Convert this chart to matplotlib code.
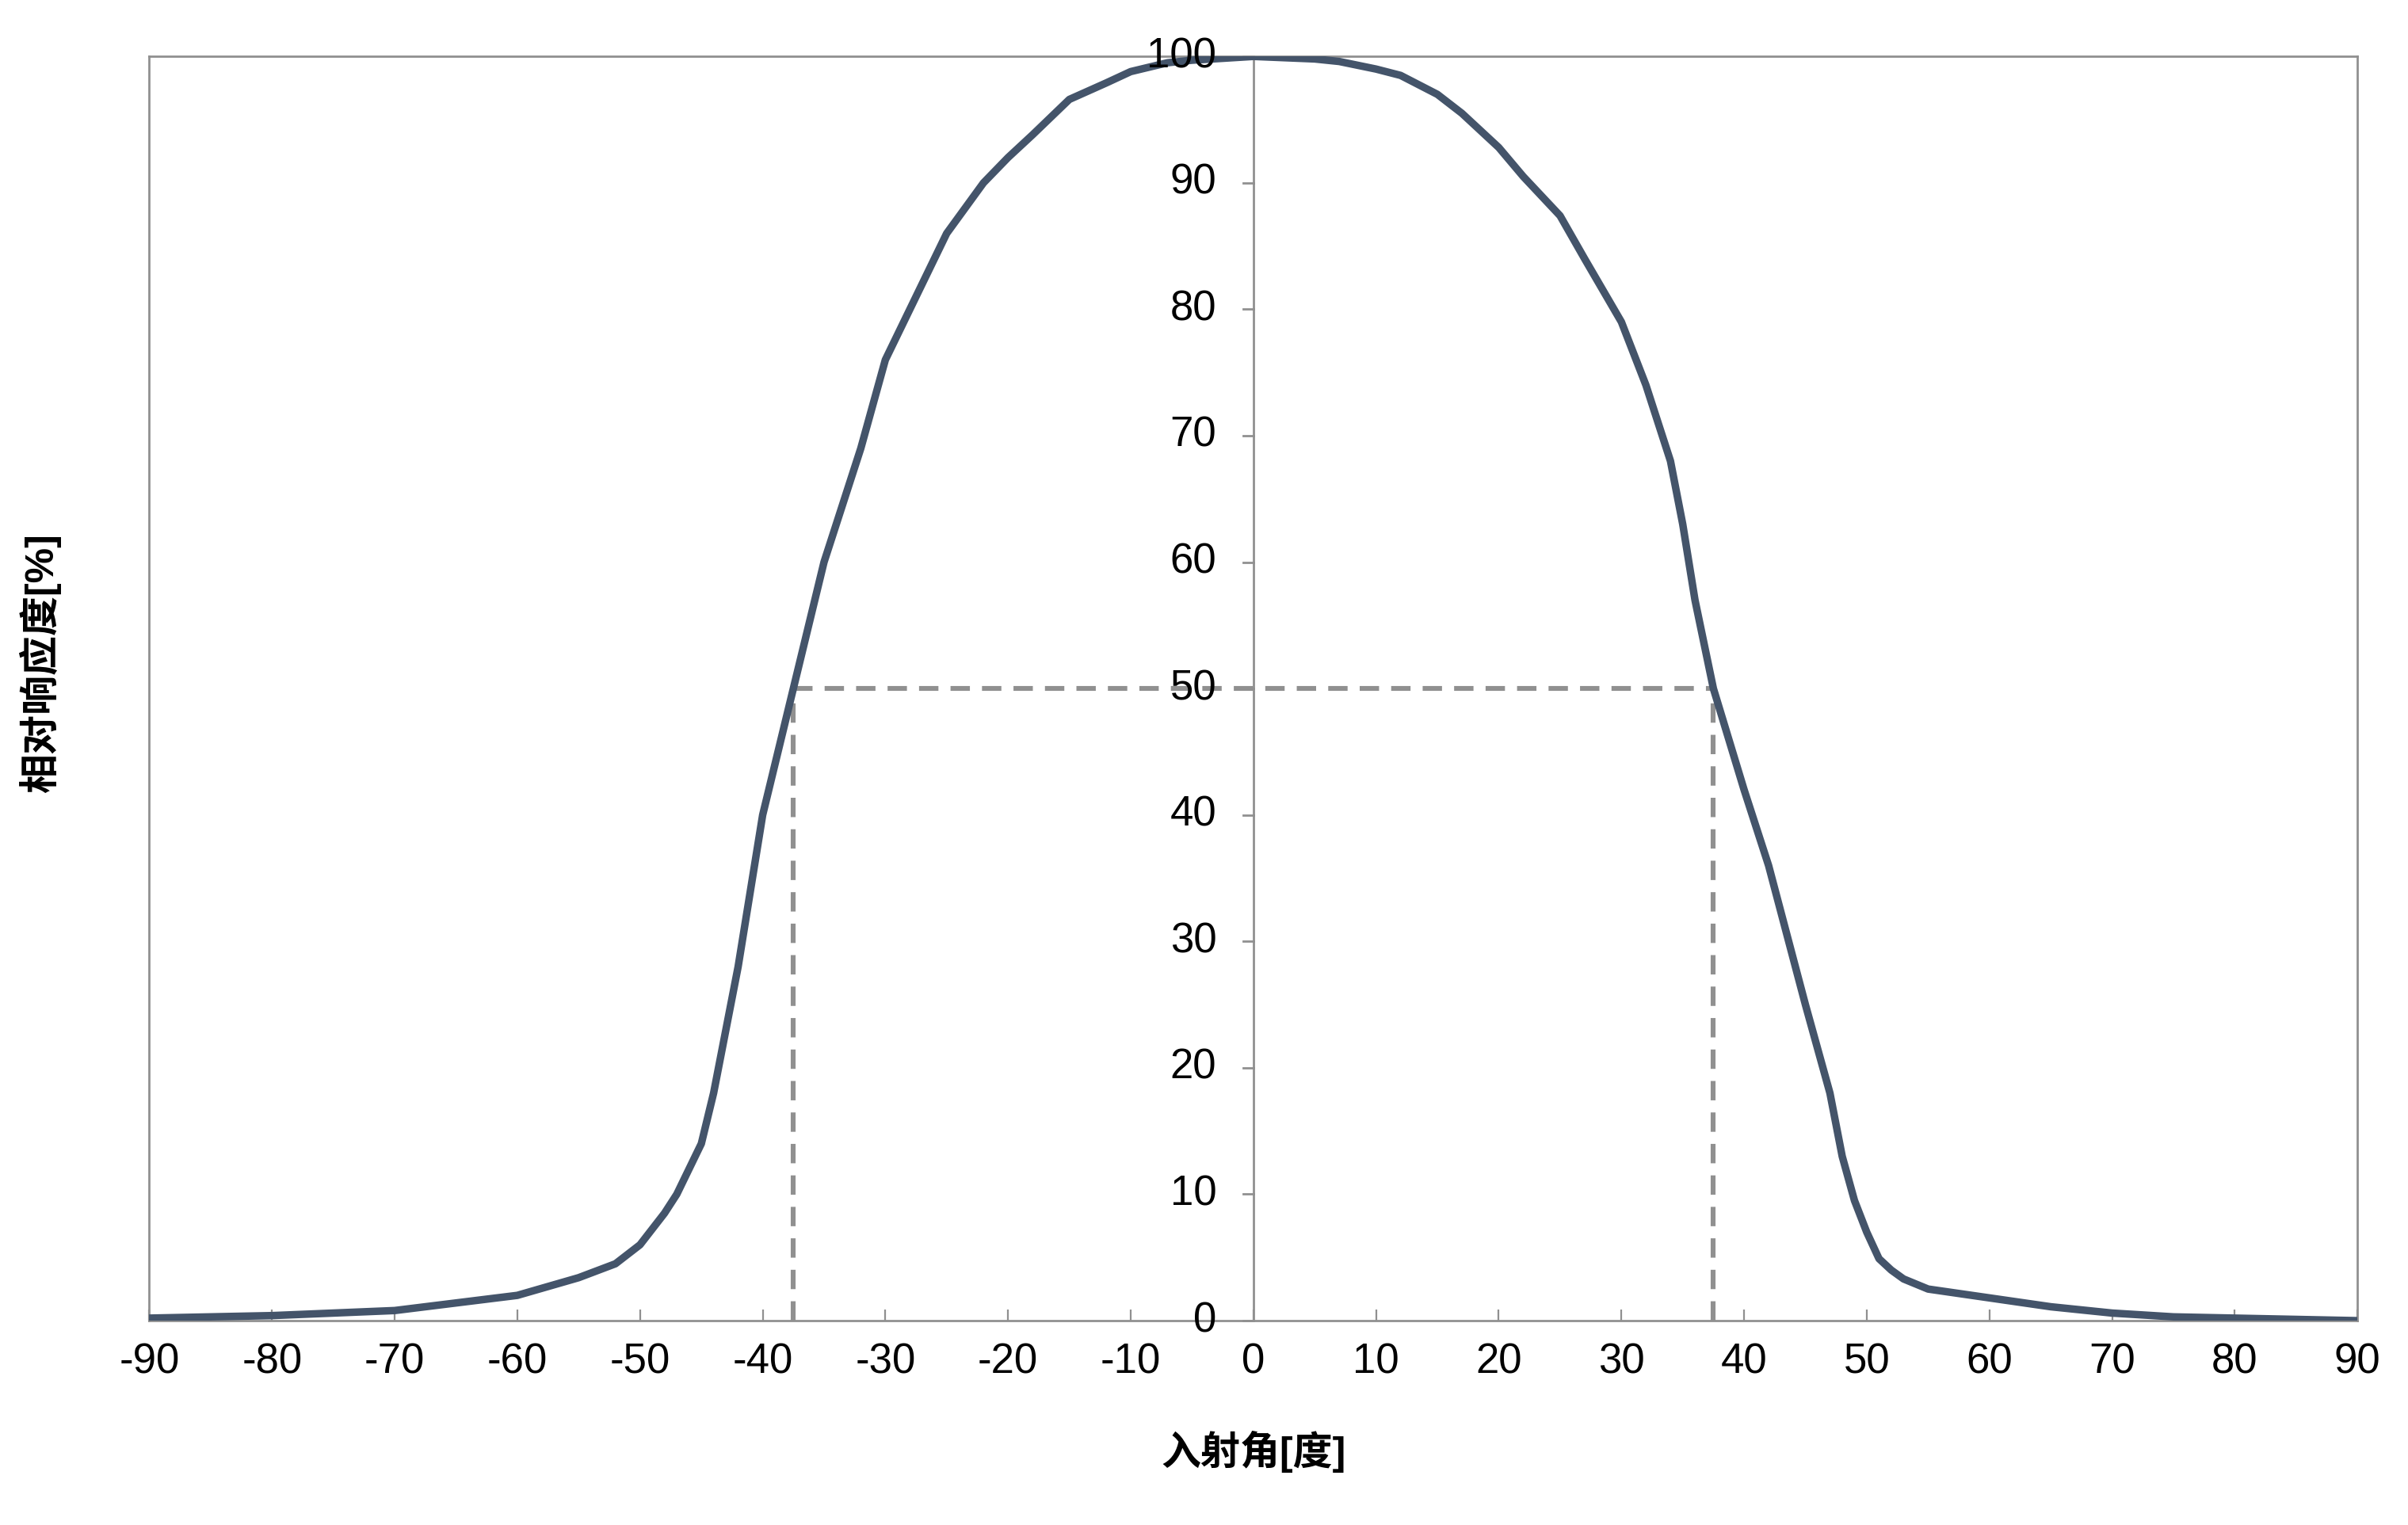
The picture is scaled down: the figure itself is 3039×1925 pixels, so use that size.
import numpy as np
import matplotlib.pyplot as plt

plt.rcParams['font.family'] = ['Liberation Sans', 'Noto Sans CJK SC', 'DejaVu Sans']
plt.rcParams['axes.unicode_minus'] = False

# angle of incidence [deg] and relative response [%]
angle = [-90, -80, -70, -60, -55, -52, -50, -48, -47, -45, -44, -42, -40, -37.5, -36, -35,
         -33, -32, -30, -28, -25, -22, -20, -18, -15, -12, -10, -7, -5, 0,
         5, 7, 10, 12, 15, 17, 20, 22, 25, 27, 30, 32, 34, 35, 36, 37.5, 40, 42,
         45, 47, 48, 49, 50, 51, 52, 53, 55, 60, 65, 70, 75, 80, 90]
response = [0.2, 0.4, 0.8, 2.0, 3.4, 4.5, 6.0, 8.5, 10, 14, 18, 28, 40, 50, 56, 60,
            66, 69, 76, 80, 86, 90, 92, 93.8, 96.6, 97.9, 98.8, 99.5, 99.7, 100,
            99.8, 99.6, 99, 98.5, 97, 95.5, 92.8, 90.5, 87.4, 84, 79, 74, 68, 63, 57, 50, 42, 36,
            25, 18, 13, 9.5, 7, 4.9, 4.0, 3.3, 2.5, 1.8, 1.1, 0.6, 0.3, 0.2, 0.0]

half_angle = 37.5
half_level = 50

fig = plt.figure(figsize=(15.195, 9.625), dpi=200)
ax = fig.add_axes([0.062, 0.134, 0.917, 0.829])

ax.plot(angle, response, color='#44546a', lw=3.4, solid_joinstyle='round',
        solid_capstyle='round', zorder=3)

dash = dict(color='#909090', lw=2.2, ls=(0, (4, 2.5)), zorder=2)
ax.plot([-half_angle, -half_angle], [0, half_level], **dash)
ax.plot([half_angle, half_angle], [0, half_level], **dash)
ax.plot([-half_angle, half_angle], [half_level, half_level], **dash)

ax.set_xlim(-90, 90)
ax.set_ylim(0, 100)
ax.set_xticks(range(-90, 91, 10))
ax.set_yticks([])
for s in ax.spines.values():
    s.set_color('#909090')
    s.set_linewidth(1)

# centre y axis
ax.axvline(0, color='#909090', lw=1, zorder=1)
for v in range(0, 101, 10):
    ax.plot([-0.8, 0], [v, v], color='#909090', lw=1, clip_on=False)
    ax.text(-3, v, str(v), ha='right', va='center', fontsize=19, zorder=4)

ax.tick_params(axis='x', direction='in', length=5, color='#909090', labelsize=19, pad=10)

ax.set_xlabel('入射角[度]', fontsize=18, fontweight='bold', labelpad=22)
ax.set_ylabel('相对响应度[%]', fontsize=18, fontweight='bold', labelpad=20)
ax.yaxis.set_label_coords(-0.04, 0.52)

fig.savefig('out.png')
